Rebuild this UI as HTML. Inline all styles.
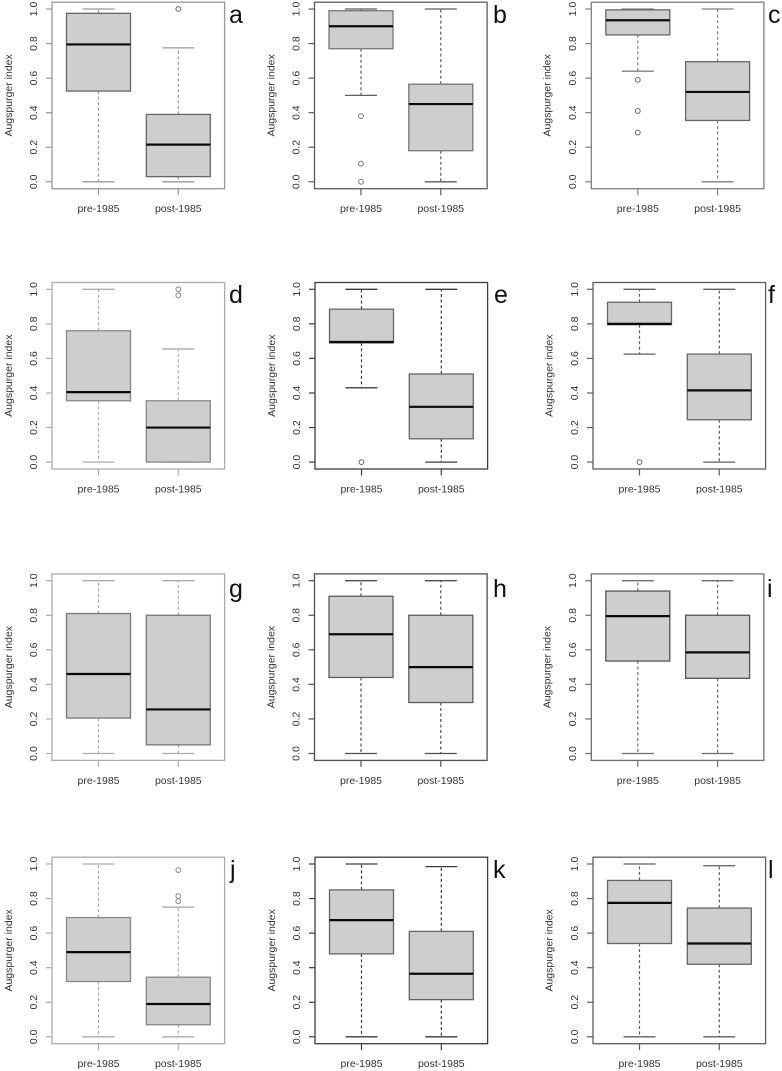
<!DOCTYPE html>
<html lang="en">
<head>
<meta charset="utf-8">
<title>Augspurger index boxplots</title>
<style>
html,body{margin:0;padding:0;background:#fff;}
svg{display:block;filter:blur(0.35px);}
text{font-family:"Liberation Sans",sans-serif;}
</style>
</head>
<body>
<svg id="chart" xmlns="http://www.w3.org/2000/svg" width="782" height="1071" viewBox="0 0 782 1071"></svg>
<script>
// ---- data ----
const panelLetters = ['a','b','c','d','e','f','g','h','i','j','k','l'];
const categories = ['pre-1985','post-1985'];
const yTicks = [0, 0.2, 0.4, 0.6, 0.8, 1];
const yTickLabels = ['0.0','0.2','0.4','0.6','0.8','1.0'];
const yAxisTitle = 'Augspurger index';

// each row: [lower whisker, Q1, median, Q3, upper whisker], panels a to l
const preStats = [
  [0, .525, .795, .975, 1],
  [.5, .77, .90, .99, 1],
  [.64, .85, .935, .995, 1],
  [0, .355, .405, .76, 1],
  [.43, .69, .695, .885, 1],
  [.625, .795, .80, .925, 1],
  [0, .205, .46, .81, 1],
  [0, .44, .69, .91, 1],
  [0, .535, .795, .94, 1],
  [0, .32, .49, .69, 1],
  [0, .48, .675, .85, 1],
  [0, .54, .775, .905, 1]
];
const postStats = [
  [0, .03, .215, .39, .775],
  [0, .18, .45, .565, 1],
  [0, .355, .52, .695, 1],
  [0, 0, .2, .355, .655],
  [0, .135, .32, .51, 1],
  [0, .245, .415, .625, 1],
  [0, .05, .255, .80, 1],
  [0, .295, .5, .80, 1],
  [0, .435, .585, .80, 1],
  [0, .07, .19, .345, .75],
  [0, .215, .365, .61, .985],
  [0, .42, .54, .745, .99]
];
const preOutliers = [[], [.38,.105,0], [.59,.41,.285], [], [0], [0], [], [], [], [], [], []];
const postOutliers = [[1], [], [], [1,.965], [], [], [], [], [], [.965,.815,.785], [], []];

// ---- layout ----
const rowTops = [9, 289.3, 580.7, 864];
const rowSpan = 172.8;
const colLefts = [[52,314.5,591.3],[52,315,593],[52,314.5,591.3],[52,315,593]];
const frameWidth = 172.6;
const groupOffsets = [46.5, 126.3];
const titleGaps = [44, 44, 44.5];
const frameColors = ['#989898','#5c5c5c','#808080','#ababab','#3c3c3c','#5e5e5e','#ababab','#505050','#6e6e6e','#ababab','#3c3c3c','#5e5e5e'];
const edgeColors = ['#666','#777','#666','#888','#666','#666','#777','#5c5c5c','#555','#888','#666','#666'];
const letterX = [229, 493, 768, 229, 494, 768, 229, 493, 767, 230, 493, 768];
const letterY = [23, 23, 23, 303, 303, 303, 597, 597, 597, 878, 878, 878];

const NS = 'http://www.w3.org/2000/svg';
const svg = document.getElementById('chart');
function make(tag, attrs, parent){
  const n = document.createElementNS(NS, tag);
  for (const k in attrs) n.setAttribute(k, attrs[k]);
  parent.appendChild(n);
  return n;
}
function yScale(row, v){ return rowTops[row] + rowSpan * (1 - v); }
function xScale(left, g){ return left + groupOffsets[g]; }

function drawGroup(parent, row, left, g, stats, outliers, frameCol, edgeCol, letter){
  const cx = xScale(left, g), halfBox = 32, halfCap = 16;
  const lo = yScale(row, stats[0]), q1 = yScale(row, stats[1]), med = yScale(row, stats[2]), q3 = yScale(row, stats[3]), hi = yScale(row, stats[4]);
  const id = letter + '-' + categories[g];

  const wUp = make('line', {x1:cx, x2:cx, y1:q3, y2:hi, stroke:frameCol, 'stroke-width':1.2, 'stroke-dasharray':'3 2.5'}, parent);
  
  
  const wDn = make('line', {x1:cx, x2:cx, y1:q1, y2:lo, stroke:frameCol, 'stroke-width':1.2, 'stroke-dasharray':'3 2.5'}, parent);
  
  
  const capUp = make('line', {x1:cx-halfCap, x2:cx+halfCap, y1:hi, y2:hi, stroke:frameCol, 'stroke-width':1.3}, parent);
  
  
  const capDn = make('line', {x1:cx-halfCap, x2:cx+halfCap, y1:lo, y2:lo, stroke:frameCol, 'stroke-width':1.3}, parent);
  
  

  const box = make('rect', {x:cx-halfBox, y:q3, width:halfBox*2, height:q1-q3, fill:'#cecece', stroke:edgeCol, 'stroke-width':1.3}, parent);
  
  
  const median = make('line', {x1:cx-halfBox, x2:cx+halfBox, y1:med, y2:med, stroke:'#0a0a0a', 'stroke-width':2.2}, parent);
  
  

  outliers.forEach(function(v){
    const o = make('circle', {cx:cx, cy:yScale(row, v), r:2.4, fill:'none', stroke:edgeCol, 'stroke-width':1}, parent);
    
    
  });
}

panelLetters.forEach(function(letter, i){
  const row = Math.floor(i / 3), col = i % 3;
  const left = colLefts[row][col];
  const frameCol = frameColors[i], edgeCol = edgeColors[i];
  const top = yScale(row, 1) - 6.8, bottom = yScale(row, 0) + 6.9;
  const textCol = '#333';

  const g = make('g', {}, svg);
  
  

  const frame = make('rect', {x:left, y:top, width:frameWidth, height:bottom-top, fill:'#fff', stroke:frameCol, 'stroke-width':1.3}, g);
  
  

  // y axis
  yTicks.forEach(function(v, k){
    const y = yScale(row, v);
    const t = make('line', {x1:left-6, x2:left, y1:y, y2:y, stroke:frameCol, 'stroke-width':1.2}, g);
    
    
    const tx = left - 15.2;
    const lbl = make('text', {x:tx, y:y, 'font-size':10.5, fill:textCol, 'text-anchor':'middle', transform:'rotate(-90 '+tx+' '+y+')'}, g);
    lbl.textContent = yTickLabels[k];
    
    
  });
  const titleX = left - titleGaps[col] + 3.8, titleY = yScale(row, 0.5);
  const title = make('text', {x:titleX, y:titleY, 'font-size':10.5, fill:textCol, 'text-anchor':'middle', transform:'rotate(-90 '+titleX+' '+titleY+')'}, g);
  title.textContent = yAxisTitle;
  
  

  // x axis
  categories.forEach(function(cat, k){
    const x = xScale(left, k);
    const t = make('line', {x1:x, x2:x, y1:bottom, y2:bottom+6.5, stroke:frameCol, 'stroke-width':1.2}, g);
    
    
    const lbl = make('text', {x:x, y:bottom+23.5, 'font-size':10.5, fill:textCol, 'text-anchor':'middle'}, g);
    lbl.textContent = cat;
    
    
  });

  drawGroup(g, row, left, 0, preStats[i], preOutliers[i], frameCol, edgeCol, letter);
  drawGroup(g, row, left, 1, postStats[i], postOutliers[i], frameCol, edgeCol, letter);

  const pl = make('text', {x:letterX[i], y:letterY[i], 'font-size':25, fill:'#111'}, g);
  pl.textContent = letter;
  
  
});
</script>
</body>
</html>
